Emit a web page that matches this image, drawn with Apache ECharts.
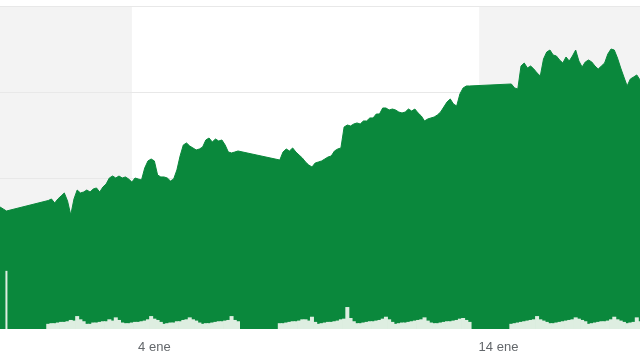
<!DOCTYPE html>
<html><head><meta charset="utf-8">
<script src="https://cdn.jsdelivr.net/npm/echarts@6/dist/echarts.min.js"></script>
<style>html,body{margin:0;padding:0;background:#fff}#c{width:640px;height:364px}</style>
</head><body><div id="c"></div>
<script>
// price per time slot (null = no trading, joined by a straight segment)
const price = [
306.63,306.40,306.16,null,null,null,null,null,null,null,null,null,null,null,null,
307.38,307.56,307.09,307.56,307.91,308.26,307.33,305.70,307.56,308.60,308.26,308.37,
308.60,308.37,308.72,308.84,308.37,308.95,309.30,310.00,310.23,310.00,310.23,310.00,
310.12,309.88,309.53,310.00,309.88,309.77,311.16,311.98,312.21,311.98,310.35,310.12,
310.12,310.00,309.65,309.88,310.93,312.56,313.84,314.07,313.72,313.49,313.26,313.37,
313.60,314.42,314.65,314.19,314.53,314.30,314.42,313.84,313.02,312.91,313.02,313.14,
null,null,null,null,null,null,null,null,null,null,null,null,
312.09,313.02,313.37,313.14,313.49,313.02,312.67,312.33,311.86,311.51,311.28,311.74,
311.86,311.98,312.21,312.44,312.56,313.14,313.37,313.49,315.93,316.16,316.05,316.28,
316.40,316.28,316.63,316.63,316.98,316.98,317.44,317.44,318.14,318.14,317.91,318.02,
317.91,317.67,317.56,317.67,318.02,317.79,318.02,317.56,317.21,316.63,316.86,316.98,
317.09,317.33,317.67,318.26,318.84,319.19,318.60,318.37,319.77,320.47,320.70,320.70,
null,null,null,null,null,null,null,null,null,null,null,null,
320.93,320.47,320.35,323.02,323.37,322.79,323.02,322.67,322.21,321.86,323.84,324.65,
324.88,324.30,324.19,323.72,323.37,324.07,323.60,324.19,324.88,323.60,322.91,323.49,
323.72,323.49,323.02,322.67,323.02,323.37,324.42,325.00,324.88,323.95,322.79,321.74,
320.70,321.51,321.74,321.98,321.40
];
const volume = [
null,null,null,null,null,null,null,null,null,null,null,null,null,null,null,
8,9,9,10,11,11,12,14,13,20,15,12,
8,8,10,10,11,12,12,15,13,18,14,10,
9,9,10,11,11,12,13,15,20,16,14,11,
8,9,10,10,12,12,14,15,18,15,13,10,
8,9,9,10,11,12,12,13,14,20,14,12,
null,null,null,null,null,null,null,null,null,null,null,null,
9,9,10,11,12,12,13,15,15,13,19,11,
8,9,10,11,11,12,13,15,16,34,17,12,
9,9,10,11,12,12,13,14,16,19,15,11,
8,9,10,10,11,12,13,14,15,18,13,10,
9,9,10,11,12,12,13,14,16,17,14,11,
null,null,null,null,null,null,null,null,null,null,null,null,
8,9,10,11,12,13,14,15,20,15,13,11,
9,9,10,11,12,13,14,15,18,16,14,12,
8,9,10,11,12,12,13,15,19,15,13,11,
9,10,11,18,12
];
// closing-auction volume of the previous session (single thin bar)
const closingVolume = [null,null,90];
const tickSlots = [48, 155];
const tickLabels = ['4 ene', '14 ene'];
const shadedBands = [[0, 41], [149, 199]];
const slots = price.map((_, i) => String(i));

const chart = echarts.init(document.getElementById('c'), null, {renderer: 'canvas'});
chart.setOption({
  animation: false,
  grid: [
    {left: 0, right: 0, top: 6, bottom: 35},
    {left: 0, right: 0, top: 6, height: 258}
  ],
  xAxis: [
    {type: 'category', gridIndex: 0, data: slots, boundaryGap: false,
     axisLine: {show: false}, axisTick: {show: false}, splitLine: {show: false},
     axisLabel: {
       interval: (i) => tickSlots.indexOf(i) >= 0,
       formatter: (v, i) => { const k = tickSlots.indexOf(Number(v)); return k >= 0 ? tickLabels[k] : ''; },
       color: '#63676b', fontSize: 13, margin: 12, fontFamily: 'Arial, Liberation Sans, sans-serif'
     }},
    {type: 'value', gridIndex: 1, min: 0, max: 1, show: false},
    {type: 'category', gridIndex: 0, data: slots, boundaryGap: false, show: false}
  ],
  yAxis: [
    {type: 'value', gridIndex: 0, min: 292.44, max: 330, show: false, splitLine: {show: false}},
    {type: 'value', gridIndex: 0, min: 0, max: 500, show: false, splitLine: {show: false}},
    {type: 'value', gridIndex: 1, min: 0, max: 3, interval: 1, z: 2,
     axisLine: {show: false}, axisTick: {show: false}, axisLabel: {show: false},
     splitLine: {show: true, lineStyle: {color: '#e8e8e8', width: 1}}}
  ],
  series: [
    {type: 'line', name: 'bands', xAxisIndex: 0, yAxisIndex: 0, z: 1,
     data: price, showSymbol: false, connectNulls: true, lineStyle: {width: 0, opacity: 0}, silent: true,
     markArea: {silent: true, itemStyle: {color: '#f3f3f3'},
       data: shadedBands.map(b => [{xAxis: String(b[0])}, {xAxis: String(b[1])}])}},
    {type: 'line', name: 'precio', xAxisIndex: 0, yAxisIndex: 0, z: 3,
     data: price, showSymbol: false, connectNulls: true, smooth: false,
     lineStyle: {color: '#0a883c', width: 1},
     areaStyle: {color: '#0a883c', opacity: 1, origin: 'start'}},
    {type: 'bar', name: 'volumen', xAxisIndex: 0, yAxisIndex: 1, z: 4,
     data: volume, barWidth: 4, itemStyle: {color: '#deeee1'}},
    {type: 'bar', name: 'cierre', xAxisIndex: 2, yAxisIndex: 1, z: 4,
     data: closingVolume, barWidth: 2, itemStyle: {color: '#deeee1'}}
  ]
});
</script></body></html>
